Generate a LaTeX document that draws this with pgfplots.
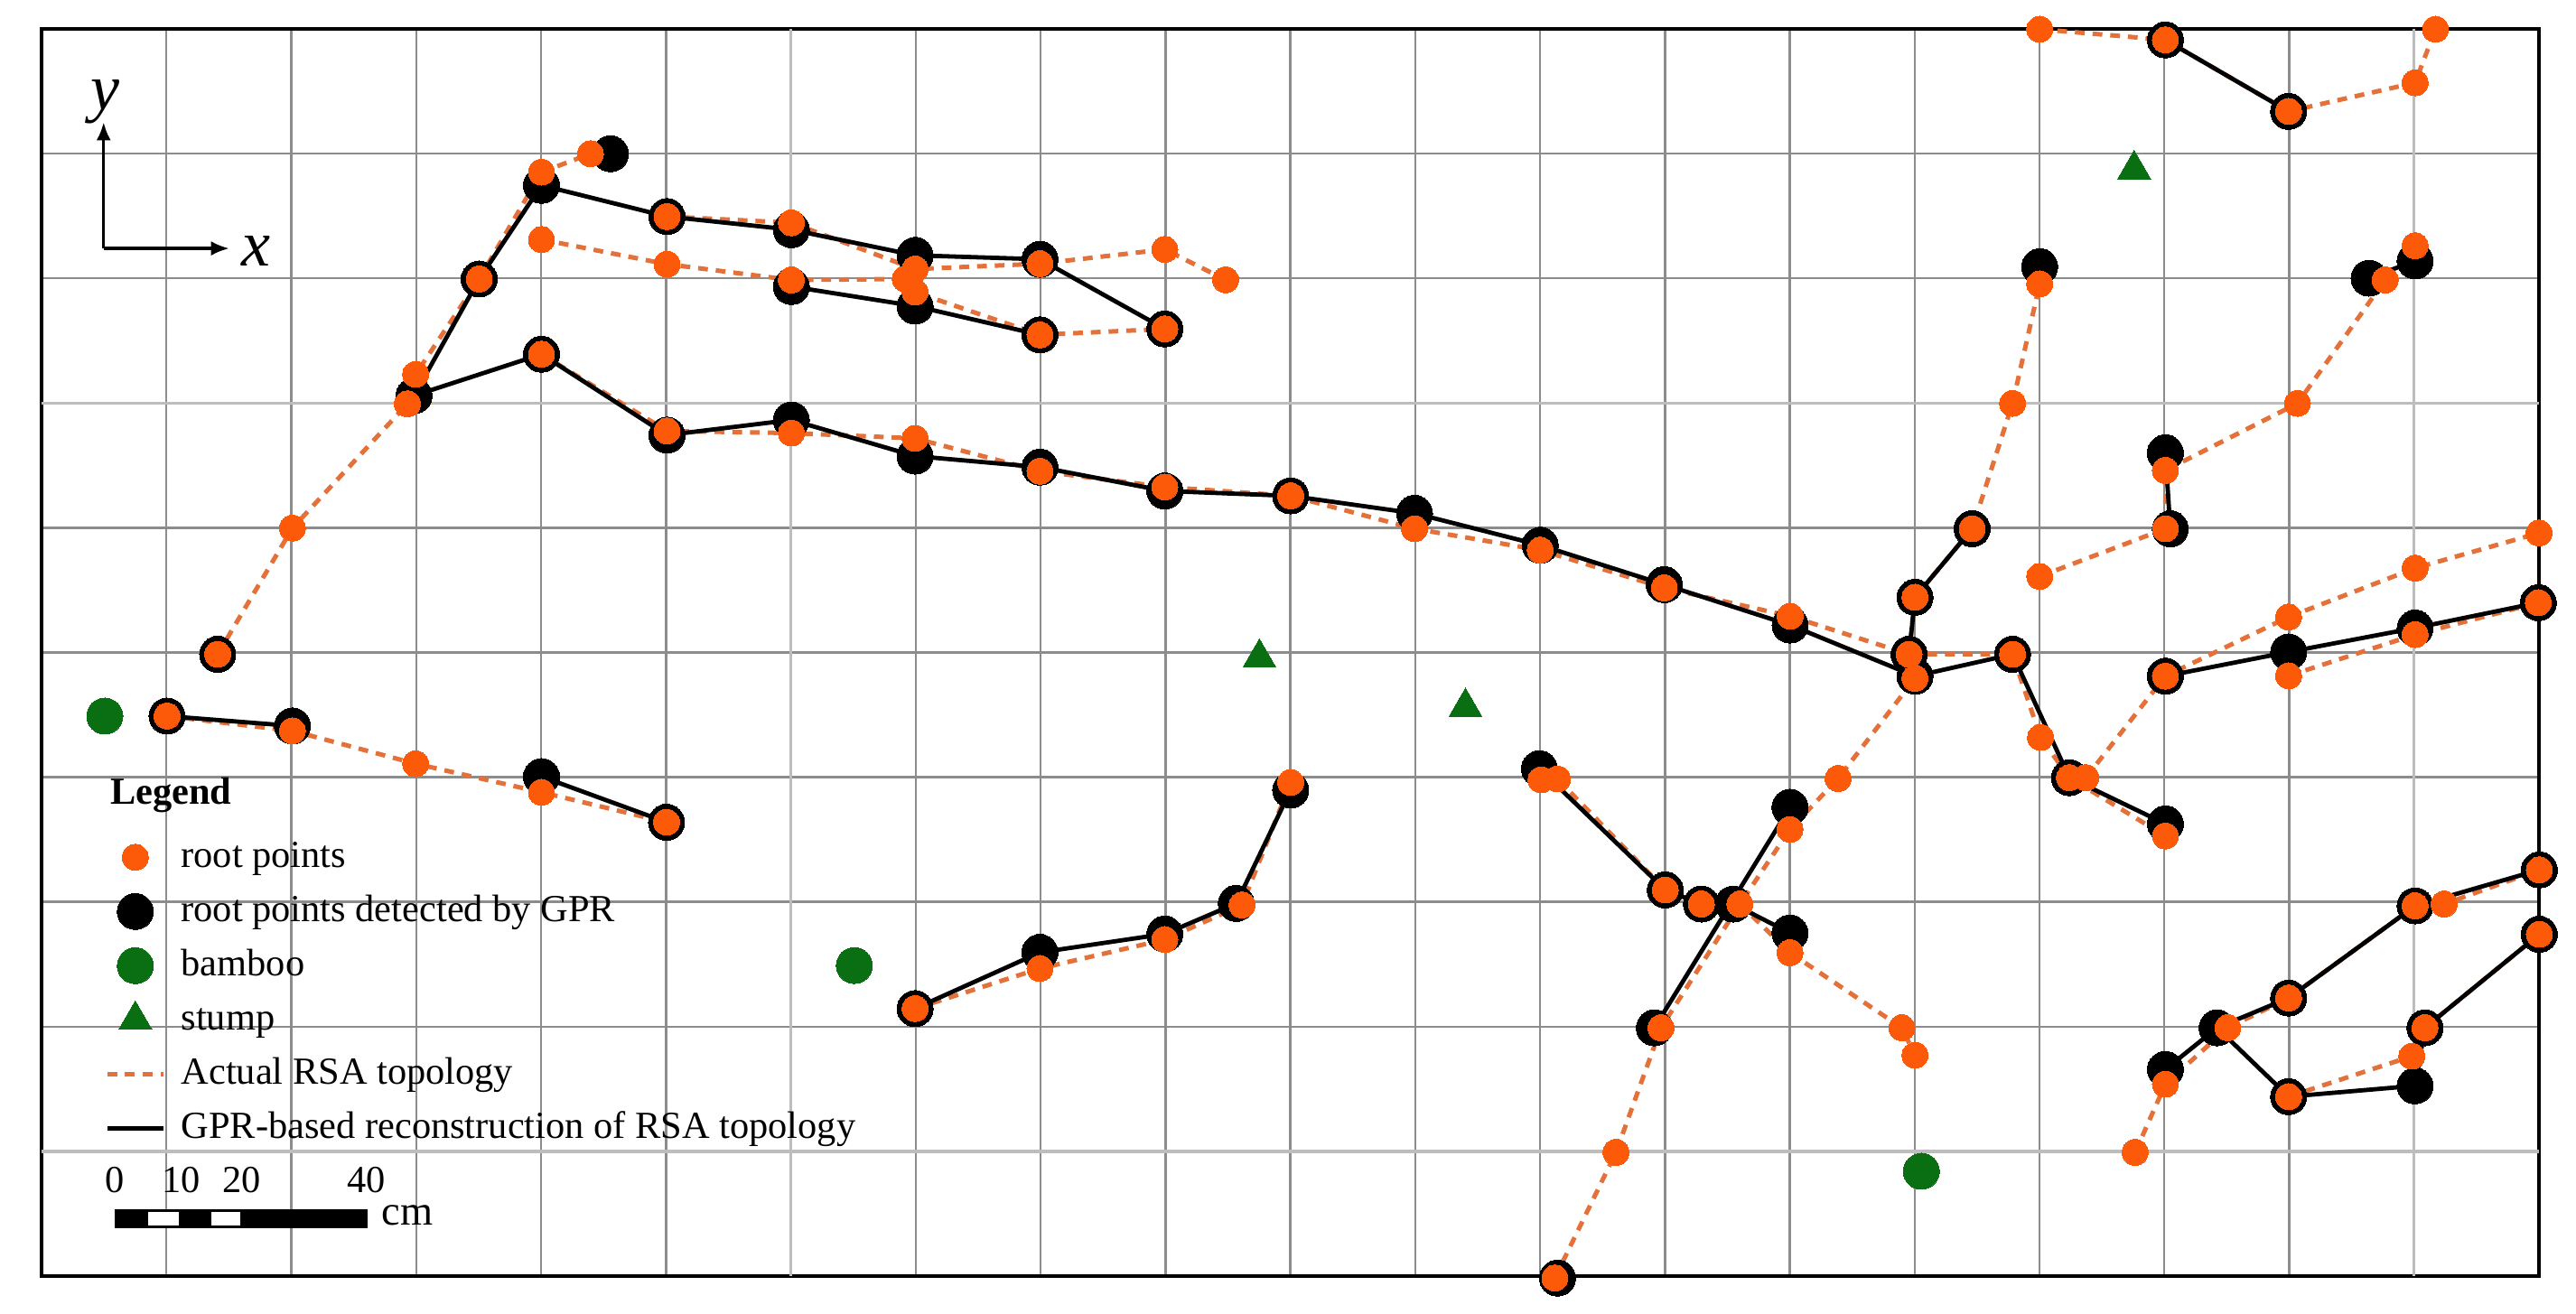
\documentclass[border=0pt]{standalone}
\usepackage{fontspec}
\setmainfont{Liberation Serif}
\usepackage{pgfplots}
\pgfplotsset{compat=1.18}
\usetikzlibrary{arrows.meta}
\definecolor{rootor}{HTML}{FC5A08}
\definecolor{lineor}{HTML}{E4703A}
\definecolor{bamb}{HTML}{0A6E12}
\definecolor{gridg}{HTML}{8C8C8C}
\definecolor{gridl}{HTML}{BDBDBD}
\pgfplotsset{
  oline/.style={lineor,line width=1.25pt,dash pattern=on 2.7pt off 2.2pt,forget plot},
  bline/.style={black,line width=1.2pt,forget plot},
  omark/.style={only marks,mark=*,mark size=3.6pt,mark options={solid,line width=0pt,draw=rootor,fill=rootor}},
  bmark/.style={only marks,mark=*,mark size=5pt,mark options={solid,line width=0pt,draw=black,fill=black}},
  gmark/.style={only marks,mark=*,mark size=5pt,mark options={solid,line width=0pt,draw=bamb,fill=bamb}},
  tmark/.style={only marks,mark=triangle*,mark size=5.3pt,mark options={solid,line width=0pt,draw=bamb,fill=bamb}},
  markimage/.style={legend image code/.code={\draw[##1] plot coordinates {(7.75pt,0pt)};}},
}
\begin{document}
\begin{tikzpicture}
\useasboundingbox (-11.5pt,-10.5pt) rectangle (701.5pt,353.25pt);
\begin{axis}[
  at={(0,0)},anchor=south west,
  scale only axis,width=691.25pt,height=345.25pt,
  xmin=25.3,xmax=1545.4,ymin=17.8,ymax=776.8,y dir=reverse,
  clip=false,
  xtick={101.3,177.3,253.3,329.3,405.4,557.4,633.4,709.4,785.4,861.4,937.4,1013.4,1089.4,1165.4,1241.4,1317.4,1393.4},
  ytick={93.7,169.6,321.4,397.3,473.2,549.1,625},
  extra x ticks={481.4,1469.4},
  extra y ticks={245.5,700.9},
  extra x tick labels={},
  extra y tick labels={},
  extra x tick style={grid style={gridl,line width=0.8pt}},
  extra y tick style={grid style={gridl,line width=0.8pt}},
  xticklabels={},yticklabels={},
  major tick length=0pt,
  grid=major,
  grid style={gridg,line width=0.6pt},
  axis line style={black,line width=0.8pt},
  legend image code/.code={\draw[#1] (0pt,0pt)--(15.5pt,0pt);},
  legend cell align=left,
  legend style={at={(axis cs:63.9,507.3)},anchor=north west,draw=none,fill=none,inner sep=0pt,outer sep=0pt,
    row sep=1.7pt,column sep=3.4pt,
    nodes={font=\fontsize{10.6}{12}\selectfont,text height=8.5pt,text depth=3pt,inner sep=0.9pt}},
]
% legend
\addlegendimage{omark,markimage}
\addlegendentry{root points}
\addlegendimage{bmark,markimage}
\addlegendentry{root points detected by GPR}
\addlegendimage{gmark,markimage}
\addlegendentry{bamboo}
\addlegendimage{tmark,markimage}
\addlegendentry{stump}
\addlegendimage{lineor,line width=1.3pt,dash pattern=on 2.7pt off 2.2pt}
\addlegendentry{Actual RSA topology}
\addlegendimage{black,line width=1.2pt}
\addlegendentry{GPR-based reconstruction of RSA topology}

% Actual RSA topology
\addplot[oline] coordinates {(132.5,398.4)(178,321.6)(248,246)(253,228)(291.7,170)(329.6,105)(359.4,93.8)};
\addplot[oline] coordinates {(329.6,215.8)(406,262.5)(481.7,263.8)(557,267)(633,287)(709,296.6)(785.6,302)(861,322)(937.5,335)(1013,358)(1089.6,375.2)(1162,398.4)(1225,398.4)(1242,449)(1259.6,473.5)(1318,509)};
\addplot[oline] coordinates {(1269.6,473.5)(1318,411.7)(1393,375.7)(1470,346)(1545.4,324.6)};
\addplot[oline] coordinates {(406,132)(481.7,135.8)(557,164)(633,160.7)(709,152)(746,170.5)};
\addplot[oline] coordinates {(329.6,146)(406,161)(481.7,170.6)(551,170)(557,178)(633,204)(709,200.4)};
\addplot[oline] coordinates {(946.4,778)(983.6,701.5)(1011,625.7)(1059,550.4)(1089.5,505)(1118.8,474)(1165.6,413)(1162,398.4)(1165.6,363.7)(1200.4,322)(1225,245.7)(1241.5,173)};
\addplot[oline] coordinates {(1241.5,351)(1318,322)(1318,286.5)(1398.4,245.7)(1451.8,170.6)(1470,149.8)};
\addplot[oline] coordinates {(1241.5,18)(1318,24.5)(1393,68)(1470,50.6)(1482.4,18)};
\addplot[oline] coordinates {(1393,411.5)(1470,386.4)(1545,367)};
\addplot[oline] coordinates {(938,474.8)(948,474.3)(1013.6,541.8)(1035.6,550.4)(1059,550.4)(1089.5,580)(1157.6,625.7)(1165.6,642.4)};
\addplot[oline] coordinates {(557,614)(633,589.6)(709,572)(756,551)(785.6,476.4)};
\addplot[oline] coordinates {(101.7,436)(178,445)(253,465)(329.6,482.4)(405.7,500.6)};
\addplot[oline] coordinates {(1299.6,701.5)(1318,660)(1356,625.7)(1393,607.6)(1470,551.5)(1487.7,550.4)(1545.6,529.6)};
\addplot[oline] coordinates {(1393,667.6)(1468,643)(1476,625.7)(1545.6,568.8)};

% root points detected by GPR
\addplot[bmark,forget plot] coordinates {
(132.5,398.4)(371.6,93.8)(1241.5,162.5)(948,778)
(329.6,113)(406,132)(481.7,140)(557,155.6)(633,158)(709,200.4)
(291.7,170)(252,241)(329.6,215.8)(406,265)(481.7,255.8)(557,277.8)(633,284.5)(709,299)(785.6,302)(861,312.6)(937.5,332)(1013,356)(1089.6,380.6)(1165.6,411.7)(1225,398.4)(1259.6,473.5)(1318,501.6)
(481.7,174.6)(557,186.5)(633,204)
(101.7,436)(178,442)
(329.6,472.8)(405.7,500.6)
(557,614)(633,579.8)(709,568.6)(752.5,550)(785.6,481)
(937,468)(1013.6,541.8)(1035.6,550.4)(1055,550.4)(1089.5,568)
(1007,625.7)(1089.5,491.5)
(1162,398.4)(1165.6,363.7)(1200.4,322)
(1318,411.7)(1393,397)(1470,382.4)(1545,367)
(1318,275.8)(1321,322)
(1442,169.5)(1470,159)
(1318,24.5)(1393,68)
(1318,651)(1349.5,625.7)(1393,607.6)(1470,551.5)(1545.6,529.6)
(1393,667.6)(1470,661)(1476,625.7)(1545.6,568.8)
};

% root points
\addplot[omark,forget plot] coordinates {
(132.5,398.4)(178,321.6)(248,246)(253,228)(291.7,170)(329.6,105)(359.4,93.8)
(329.6,215.8)(406,262.5)(481.7,263.8)(557,267)(633,287)(709,296.6)(785.6,302)(861,322)(937.5,335)(1013,358)(1089.6,375.2)(1162,398.4)(1225,398.4)(1242,449)(1259.6,473.5)(1318,509)
(1269.6,473.5)(1318,411.7)(1393,375.7)(1470,346)(1545.4,324.6)
(406,132)(481.7,135.8)(557,164)(633,160.7)(709,152)(746,170.5)
(329.6,146)(406,161)(481.7,170.6)(551,170)(557,178)(633,204)(709,200.4)
(946.4,778)(983.6,701.5)(1011,625.7)(1059,550.4)(1089.5,505)(1118.8,474)(1165.6,413)(1165.6,363.7)(1200.4,322)(1225,245.7)(1241.5,173)
(1241.5,351)(1318,322)(1318,286.5)(1398.4,245.7)(1451.8,170.6)(1470,149.8)
(1241.5,18)(1318,24.5)(1393,68)(1470,50.6)(1482.4,18)
(1393,411.5)(1470,386.4)(1545,367)
(938,474.8)(948,474.3)(1013.6,541.8)(1035.6,550.4)(1089.5,580)(1157.6,625.7)(1165.6,642.4)
(557,614)(633,589.6)(709,572)(756,551)(785.6,476.4)
(101.7,436)(178,445)(253,465)(329.6,482.4)(405.7,500.6)
(1299.6,701.5)(1318,660)(1356,625.7)(1393,607.6)(1470,551.5)(1487.7,550.4)(1545.6,529.6)
(1393,667.6)(1468,643)(1476,625.7)(1545.6,568.8)
};

% GPR-based reconstruction
\addplot[bline] coordinates {(329.6,113)(406,132)(481.7,140)(557,155.6)(633,158)(709,200.4)};
\addplot[bline] coordinates {(329.6,113)(291.7,170)(252,241)(329.6,215.8)(406,265)(481.7,255.8)(557,277.8)(633,284.5)(709,299)(785.6,302)(861,312.6)(937.5,332)(1013,356)(1089.6,380.6)(1165.6,411.7)(1225,398.4)(1259.6,473.5)(1318,501.6)};
\addplot[bline] coordinates {(481.7,174.6)(557,186.5)(633,204)};
\addplot[bline] coordinates {(101.7,436)(178,442)};
\addplot[bline] coordinates {(329.6,472.8)(405.7,500.6)};
\addplot[bline] coordinates {(557,614)(633,579.8)(709,568.6)(752.5,550)(785.6,481)};
\addplot[bline] coordinates {(937,468)(1013.6,541.8)(1035.6,550.4)(1055,550.4)(1089.5,568)};
\addplot[bline] coordinates {(1007,625.7)(1089.5,491.5)};
\addplot[bline] coordinates {(1162,398.4)(1165.6,363.7)(1200.4,322)};
\addplot[bline] coordinates {(1318,411.7)(1393,397)(1470,382.4)(1545,367)};
\addplot[bline] coordinates {(1318,275.8)(1321,322)};
\addplot[bline] coordinates {(1442,169.5)(1470,159)};
\addplot[bline] coordinates {(1318,24.5)(1393,68)};
\addplot[bline] coordinates {(1318,651)(1349.5,625.7)(1393,607.6)(1470,551.5)(1545.6,529.6)};
\addplot[bline] coordinates {(1349.5,625.7)(1393,667.6)(1470,661)(1476,625.7)(1545.6,568.8)};

% bamboo and stumps
\addplot[gmark,forget plot] coordinates {(63.8,436)(520,587.8)(1169.5,713)};
\addplot[tmark,forget plot] coordinates {(766.6,400.5)(892,430.5)(1299,103.3)};

% north arrows
\draw[-{Latex[length=5pt,width=4pt]},line width=0.8pt] (axis cs:63.1,151.4)--(axis cs:63.1,74.6);
\draw[-{Latex[length=5pt,width=4pt]},line width=0.8pt] (axis cs:63.1,151.4)--(axis cs:139.5,151.4);
\node[font=\fontsize{18}{20}\selectfont\itshape] at (axis cs:63.8,62) {y};
\node[font=\fontsize{18}{20}\selectfont\itshape] at (axis cs:156,153) {x};

% legend title
\node[anchor=west,font=\fontsize{10.6}{12}\selectfont\bfseries] at (axis cs:59.4,484) {Legend};

% scale bar
\fill[black] (axis cs:70,736.2) rectangle (axis cs:224,747.7);
\fill[white] (axis cs:90.4,738) rectangle (axis cs:108.7,746);
\fill[white] (axis cs:128.6,738) rectangle (axis cs:146.4,746);
\node[font=\fontsize{10.6}{12}\selectfont] at (axis cs:70,718.5) {0};
\node[font=\fontsize{10.6}{12}\selectfont] at (axis cs:110.5,718.5) {10};
\node[font=\fontsize{10.6}{12}\selectfont] at (axis cs:147.3,718.5) {20};
\node[font=\fontsize{10.6}{12}\selectfont] at (axis cs:223,718.5) {40};
\node[font=\fontsize{11.6}{14}\selectfont] at (axis cs:248,740) {cm};
\end{axis}
\end{tikzpicture}
\end{document}
